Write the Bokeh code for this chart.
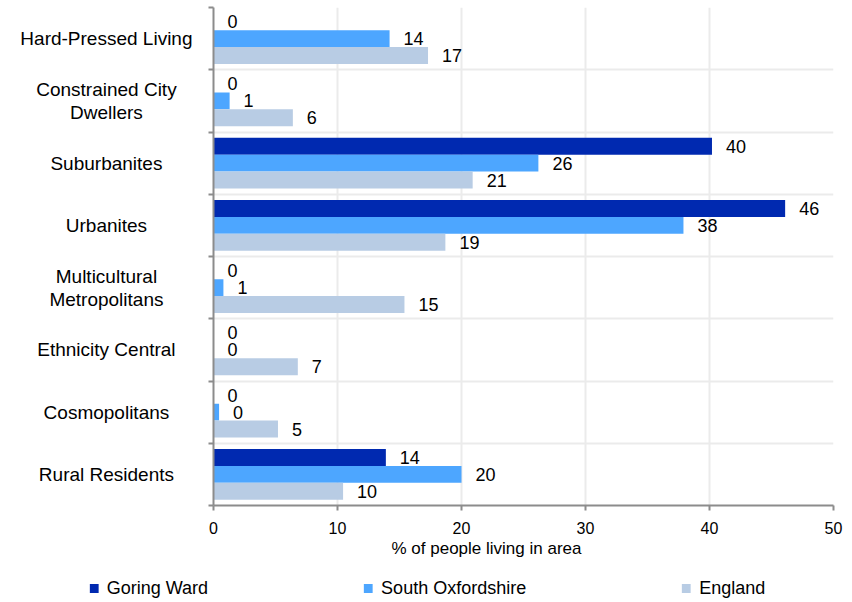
from bokeh.plotting import figure
from bokeh.models import (Range1d, FixedTicker, Legend, LegendItem, CustomJSTickFormatter, Title)
from bokeh.layouts import row, column
from bokeh.embed import file_html
from bokeh.resources import INLINE
from bokeh.core.properties import value

# ---- data ----
categories = ["Hard-Pressed Living", "Constrained City\nDwellers", "Suburbanites", "Urbanites",
              "Multicultural\nMetropolitans", "Ethnicity Central", "Cosmopolitans", "Rural Residents"]
series_names = ["Goring Ward", "South Oxfordshire", "England"]
goring = [0, 0, 40.2, 46.1, 0, 0, 0, 13.9]
south_oxon = [14.2, 1.3, 26.2, 37.9, 0.8, 0, 0.45, 20.0]
england = [17.3, 6.4, 20.9, 18.7, 15.4, 6.8, 5.2, 10.45]
x_ticks = [0, 10, 20, 30, 40, 50]
x_title = "% of  people living in area"

# ---- style ----
colors = ["#0029b0", "#4da6ff", "#b8cce4"]
FONT = "Liberation Sans"
AXIS_COL = "#8c8c8c"
GRID_COL = "#ebebeb"
TEXT_COL = "#000000"

n = len(categories)
centers = [i + 0.5 for i in range(n)]
bar_h = 0.273
series = [goring, south_oxon, england]

TOP = 7
BOTTOM = 71
MAIN_H = 576
LABEL_W = 201

p = figure(width=642, height=MAIN_H, x_range=Range1d(0, 50), y_range=Range1d(n, 0),
           output_backend="svg", toolbar_location=None,
           min_border_left=12, min_border_right=10, min_border_top=TOP, min_border_bottom=BOTTOM)
p.outline_line_color = None
p.background_fill_color = "white"
p.border_fill_color = "white"

series_ys = []
for k, (vals, col) in enumerate(zip(series, colors)):
    ys = [c + (k - 1) * bar_h for c in centers]
    series_ys.append(ys)
    p.hbar(y=ys, left=0, right=vals, height=bar_h, fill_color=col, line_color=None)
    p.text(x=vals, y=ys, text=[f"{v:.0f}" for v in vals], x_offset=14,
           text_align="left", text_baseline="middle", text_font=value(FONT),
           text_font_size="18px", text_color=TEXT_COL)

p.xgrid.ticker = FixedTicker(ticks=x_ticks)
p.ygrid.ticker = FixedTicker(ticks=list(range(n + 1)))
p.grid.grid_line_color = GRID_COL
p.grid.grid_line_width = 2

xa = p.xaxis[0]
xa.ticker = FixedTicker(ticks=x_ticks)
xa.major_label_text_font = FONT
xa.major_label_text_font_size = "16px"
xa.major_label_text_color = TEXT_COL
xa.major_label_standoff = 11
xa.axis_line_color = AXIS_COL
xa.axis_line_width = 2
xa.major_tick_line_color = AXIS_COL
xa.major_tick_line_width = 2
xa.major_tick_out = 5
xa.major_tick_in = 0
xa.minor_tick_line_color = None

# x-axis title, placed a little left of the plot centre as in the original
p.add_layout(Title(text=x_title, align="left", offset=178, standoff=0,
                   text_font=FONT, text_font_size="17px", text_font_style="normal",
                   text_color=TEXT_COL), "below")

ya = p.yaxis[0]
ya.ticker = FixedTicker(ticks=list(range(n + 1)))
ya.formatter = CustomJSTickFormatter(code="return ''")
ya.major_label_standoff = 0
ya.axis_line_color = AXIS_COL
ya.axis_line_width = 2
ya.major_tick_line_color = AXIS_COL
ya.major_tick_line_width = 2
ya.major_tick_out = 5
ya.major_tick_in = 0
ya.minor_tick_line_color = None

# ---- category labels panel ----
lf = figure(width=LABEL_W, height=MAIN_H, x_range=Range1d(0, 1), y_range=p.y_range,
            output_backend="svg", toolbar_location=None, x_axis_type=None, y_axis_type=None,
            min_border_left=0, min_border_right=0, min_border_top=TOP, min_border_bottom=BOTTOM)
lf.outline_line_color = None
lf.background_fill_color = "white"
lf.border_fill_color = "white"
lf.text(x=[0.527] * n, y=centers, text=categories, text_align="center", text_baseline="middle",
        text_font=value(FONT), text_font_size="19px", text_color=TEXT_COL, text_line_height=1.1)

# ---- legend panel (series renderers kept out of view; only the legend shows) ----
lg = figure(width=843, height=24, x_range=Range1d(-2, -1), y_range=Range1d(-2, -1),
            output_backend="svg", toolbar_location=None, x_axis_type=None, y_axis_type=None,
            min_border_left=10, min_border_right=0, min_border_top=0, min_border_bottom=0)
lg.outline_line_color = None
lg.background_fill_color = "white"
lg.border_fill_color = "white"
rs = [lg.hbar(y=ys, left=0, right=vals, height=bar_h, fill_color=c, line_color=None)
      for ys, vals, c in zip(series_ys, series, colors)]
legend = Legend(items=[LegendItem(label=s, renderers=[r]) for s, r in zip(series_names, rs)],
                orientation="horizontal", location="center", spacing=154,
                glyph_width=11, glyph_height=11, label_standoff=8, label_height=20,
                padding=0, margin=0, border_line_color=None, background_fill_alpha=0,
                label_text_font=FONT, label_text_font_size="18px", label_text_color=TEXT_COL)
lg.add_layout(legend, "center")

layout = column(row(lf, p), lg)
open("out.html", "w").write(file_html(layout, INLINE))
